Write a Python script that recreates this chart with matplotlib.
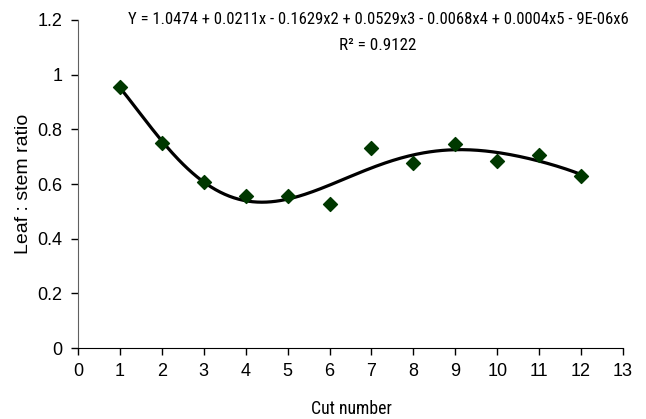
import matplotlib.pyplot as plt
from matplotlib import font_manager
import numpy as np

plt.rcParams['font.family'] = ['Liberation Sans', 'DejaVu Sans']

# data
cut = [1, 2, 3, 4, 5, 6, 7, 8, 9, 10, 11, 12]
ratio = [0.955, 0.750, 0.607, 0.555, 0.555, 0.527, 0.730, 0.678, 0.746, 0.683, 0.705, 0.630]
equation = "Y = 1.0474 + 0.0211x - 0.1629x2 + 0.0529x3 - 0.0068x4 + 0.0004x5 - 9E-06x6"
r2_text = "R² = 0.9122"

# look for a narrow face for the trendline label, else plain sans
names = {f.name for f in font_manager.fontManager.ttflist}
narrow = None
for cand in ["Liberation Sans Narrow", "Roboto Condensed", "Open Sans Condensed",
             "DejaVu Sans Condensed"]:
    if cand in names:
        narrow = {"family": cand}
        break
if narrow is None:
    cond = [f for f in font_manager.fontManager.ttflist
            if f.name in ("Roboto", "Open Sans", "DejaVu Sans", "Noto Sans")
            and str(f.stretch) in ("condensed", "semi-condensed", "75", "87")
            and f.weight in (400, "normal") and f.style == "normal"]
    if cond:
        narrow = {"family": cond[0].name, "stretch": cond[0].stretch}
    else:
        narrow = {"family": "Liberation Sans"}

fig = plt.figure(figsize=(6.46, 4.19), dpi=100)
ax = fig.add_axes([78 / 646, 71 / 419, 545 / 646, 328 / 419])

# 6th order polynomial trendline
coef = np.polyfit(cut, ratio, 6)
xs = np.linspace(min(cut), max(cut), 300)
ax.plot(xs, np.polyval(coef, xs), color="black", lw=2.3, zorder=2)
ax.scatter(cut, ratio, marker="D", s=50, color="#003800", zorder=3)

ax.set_xlim(0, 13)
ax.set_ylim(0, 1.2)
ax.set_xticks(range(0, 14))
ax.set_yticks([0, 0.2, 0.4, 0.6, 0.8, 1.0, 1.2])
ax.set_yticklabels(["0", "0.2", "0.4", "0.6", "0.8", "1", "1.2"])
ax.tick_params(labelsize=13, length=5, width=1, direction="out", pad=6)
for s in ["top", "right"]:
    ax.spines[s].set_visible(False)
ax.spines["left"].set_color("#606060")
ax.spines["bottom"].set_color("black")

ax.set_ylabel("Leaf : stem ratio", fontsize=14, labelpad=4)

t_eq = fig.text(378 / 646, 1 - 20 / 419, equation, ha="center", va="center", fontsize=12, **narrow)
t_r2 = fig.text(378 / 646, 1 - 45 / 419, r2_text, ha="center", va="center", fontsize=12, **narrow)
t_x = fig.text(351 / 646, 1 - 409 / 419, "Cut number", ha="center", va="center", fontsize=12, **narrow)

# size the narrow labels to the widths seen in the reference
fig.canvas.draw()
r = fig.canvas.get_renderer()
for t, w in [(t_eq, 500), (t_r2, 77), (t_x, 81)]:
    cur = t.get_window_extent(r).width
    t.set_fontsize(12 * w / cur)

plt.savefig("out.png", dpi=100)
